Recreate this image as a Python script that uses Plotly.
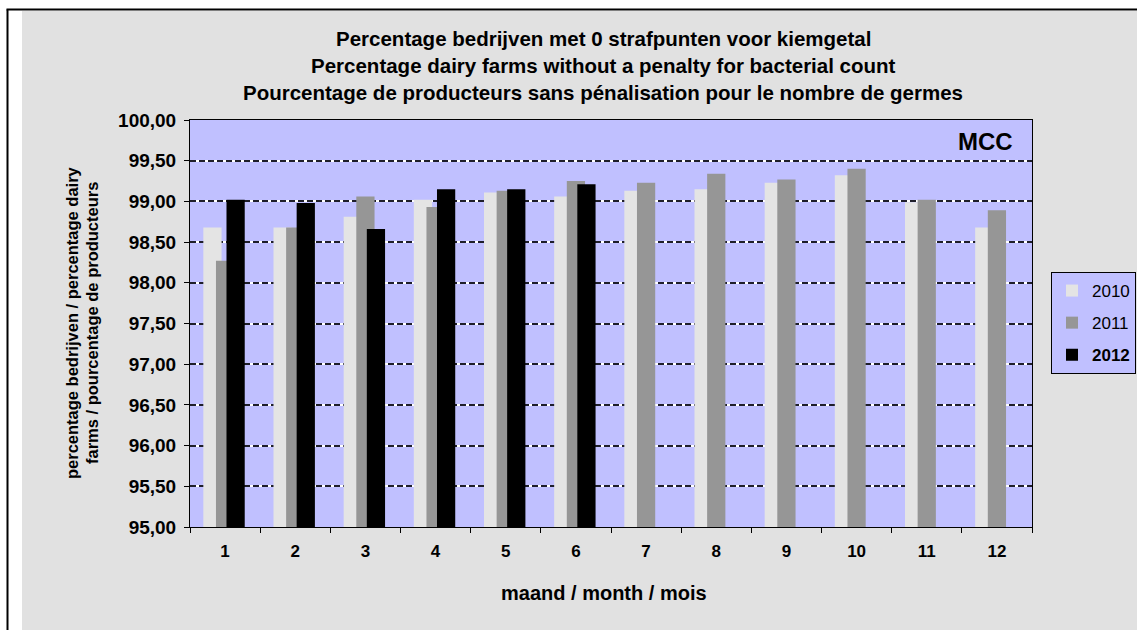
import plotly.graph_objects as go

# Monthly share of farms with no penalty points for bacterial count (%)
months = ["1", "2", "3", "4", "5", "6", "7", "8", "9", "10", "11", "12"]
pct_2010 = [98.68, 98.68, 98.81, 99.02, 99.11, 99.06, 99.13, 99.15, 99.23, 99.32, 98.99, 98.68]
pct_2011 = [98.27, 98.68, 99.06, 98.93, 99.13, 99.25, 99.23, 99.34, 99.27, 99.40, 99.02, 98.89]
pct_2012 = [99.02, 98.98, 98.66, 99.15, 99.15, 99.21]

title_lines = [
    "Percentage bedrijven met 0 strafpunten voor kiemgetal",
    "Percentage dairy farms without a penalty for bacterial count",
    "Pourcentage de producteurs sans pénalisation pour le nombre de germes",
]
y_title_lines = [
    "percentage bedrijven / percentage dairy",
    "farms / pourcentage de producteurs",
]
x_title = "maand / month / mois"

W, H = 1137, 630
ML, MR, MT, MB = 190, 105, 120, 103
PW, PH = W - ML - MR, H - MT - MB
FONT = "Liberation Sans, Arial, sans-serif"


def px(x):
    return (x - ML) / PW


def py(y):
    return (H - MB - y) / PH


fig = go.Figure()

series = [
    ("2010", pct_2010, "#e4e4e4", -0.31),
    ("2011", pct_2011, "#969696", -0.13),
    ("<b>2012</b>", pct_2012, "#000000", 0.02),
]
for name, vals, color, off in series:
    fig.add_trace(go.Bar(
        x=months[:len(vals)], y=vals, name=name,
        marker=dict(color=color, line=dict(width=0)),
        width=0.26, offset=off, legendgroup=name,
    ))

# helper trace so the dashed-grid axis gets drawn
fig.add_trace(go.Scatter(x=[months[0]], y=[None], yaxis="y2",
                         showlegend=False, hoverinfo="skip"))

shapes = [
    # white margin strips and black frame lines around the sheet
    dict(type="rect", xref="paper", yref="paper", x0=px(-5), x1=px(22), y0=py(H + 5), y1=py(-5),
         fillcolor="white", line=dict(width=0), layer="below"),
    dict(type="rect", xref="paper", yref="paper", x0=px(-5), x1=px(W + 5), y0=py(11), y1=py(-5),
         fillcolor="white", line=dict(width=0), layer="below"),
    dict(type="line", xref="paper", yref="paper", x0=px(7.5), x1=px(7.5), y0=py(9.5), y1=py(H + 5),
         line=dict(color="black", width=2)),
    dict(type="line", xref="paper", yref="paper", x0=px(6.5), x1=px(W + 5), y0=py(9.5), y1=py(9.5),
         line=dict(color="black", width=2)),
]

annotations = []
for i, line in enumerate(title_lines):
    annotations.append(dict(
        text=f"<b>{line}</b>", xref="paper", yref="paper",
        x=px(603), y=py(38 + 27 * i), xanchor="center", yanchor="middle",
        showarrow=False, font=dict(family=FONT, size=20.5, color="black"),
    ))
for i, line in enumerate(y_title_lines):
    annotations.append(dict(
        text=f"<b>{line}</b>", xref="paper", yref="paper",
        x=px(72 + 20 * i), y=py(323), xanchor="center", yanchor="middle",
        textangle=-90, showarrow=False, font=dict(family=FONT, size=16.5, color="black"),
    ))
annotations.append(dict(
    text=f"<b>{x_title}</b>", xref="paper", yref="paper",
    x=px(604), y=py(593), xanchor="center", yanchor="middle",
    showarrow=False, font=dict(family=FONT, size=20, color="black"),
))
annotations.append(dict(
    text="<b>MCC</b>", xref="paper", yref="paper",
    x=px(1015), y=py(141), xanchor="right", yanchor="middle",
    showarrow=False, font=dict(family=FONT, size=24, color="black"),
))

fig.update_layout(
    width=W, height=H,
    margin=dict(l=ML, r=MR, t=MT, b=MB, autoexpand=False),
    paper_bgcolor="#e1e1e1",
    plot_bgcolor="#c0c0ff",
    barmode="overlay",
    separators=",.",
    font=dict(family=FONT, color="black"),
    showlegend=True,
    legend=dict(
        x=px(1051), y=py(272), xanchor="left", yanchor="top",
        bgcolor="#c0c0ff", bordercolor="black", borderwidth=1,
        font=dict(family=FONT, size=17, color="black"),
        tracegroupgap=7, itemwidth=30,
    ),
    xaxis=dict(
        type="category", range=[-0.5, 11.5], tickson="boundaries",
        ticks="outside", ticklen=5, tickcolor="black",
        showline=True, linecolor="black", linewidth=1, mirror=True,
        showgrid=False, ticklabelstandoff=9,
        tickfont=dict(family=FONT, size=17, color="black"),
        tickprefix="<b>", ticksuffix="</b>",
    ),
    yaxis=dict(
        range=[95, 100], dtick=0.5, tick0=95, tickformat=".2f",
        ticks="outside", ticklen=5, tickcolor="black",
        showline=True, linecolor="black", linewidth=1, mirror=True,
        showgrid=True, gridcolor="white", gridwidth=1.5,
        tickfont=dict(family=FONT, size=19, color="black"),
        tickprefix="<b>", ticksuffix="</b>", ticklabelstandoff=4,
    ),
    yaxis2=dict(
        range=[95, 100], dtick=0.5, tick0=95, overlaying="y", anchor="x", side="left",
        showticklabels=False, ticks="", showline=False,
        showgrid=True, gridcolor="#1e1e2a", gridwidth=1.5, griddash="6px,3px",
        zeroline=False,
    ),
    shapes=shapes,
    annotations=annotations,
)

fig.write_html("out.html")
